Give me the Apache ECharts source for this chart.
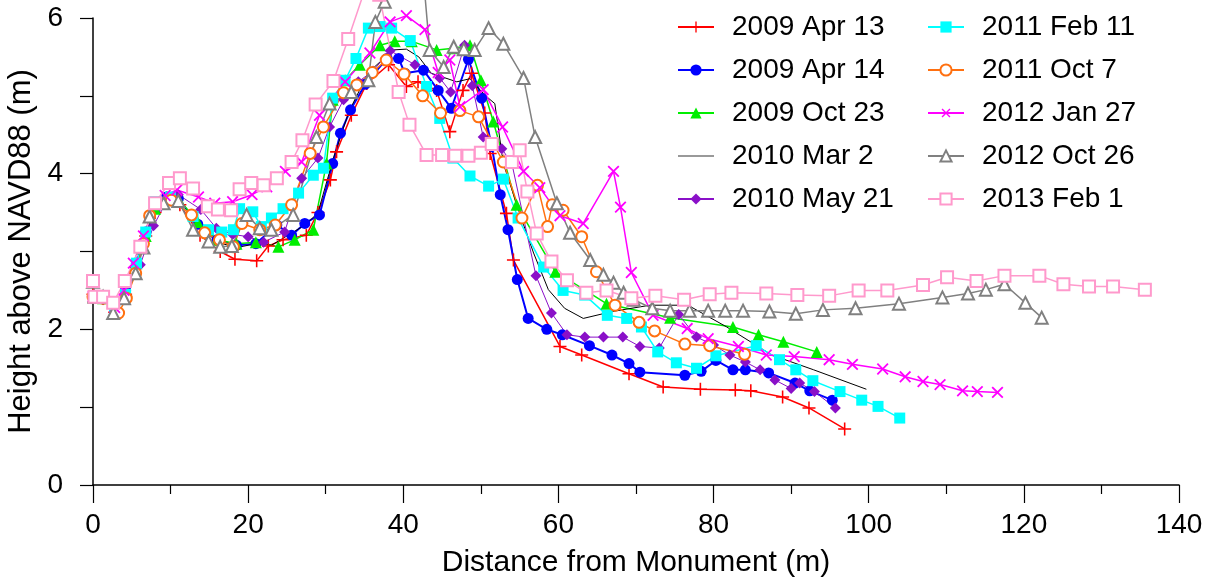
<!DOCTYPE html>
<html>
<head>
<meta charset="utf-8">
<script src="https://cdn.jsdelivr.net/npm/echarts@6/dist/echarts.min.js"></script>
<style>
  html, body { margin: 0; padding: 0; background: #fff; }
  #chart { width: 1210px; height: 583px; }
</style>
</head>
<body>
<div id="chart"></div>
<script>
// survey profiles, [distance (m), height (m)]
var seriesNames = ['2009 Apr 13', '2009 Apr 14', '2009 Oct 23', '2010 Mar 2', '2010 May 21',
                   '2011 Feb 11', '2011 Oct 7', '2012 Jan 27', '2012 Oct 26', '2013 Feb 1'];

var apr13_2009 = [[0,2.45],[1.3,2.4],[2.8,2.22],[4.2,2.45],[5.6,2.8],[6.8,3.2],[8,3.5],[9.5,3.65],[11.2,3.6],[13.8,3.21],[16.4,3.0],[18.3,2.9],[21.1,2.88],[22.6,3.07],[24.5,3.15],[27.5,3.21],[29,3.5],[30.6,3.92],[31.4,4.28],[33.3,4.75],[35.3,5.16],[38.1,5.4],[40.4,5.12],[41.9,5.18],[44.3,5.07],[46,4.54],[47.7,5.07],[48.8,5.29],[50.5,4.78],[51.2,4.26],[53.3,3.49],[54.2,2.89],[60.2,1.78],[63,1.67],[69.1,1.43],[73.5,1.26],[78.3,1.23],[82.8,1.22],[84.8,1.21],[88.9,1.13],[92.3,0.99],[96.9,0.72]];

var apr14_2009 = [[0,2.42],[1.3,2.4],[2.8,2.22],[4.2,2.5],[5.6,2.85],[6.8,3.25],[8,3.55],[9.5,3.7],[11,3.68],[13.5,3.35],[16,3.15],[18.5,3.08],[21,3.1],[23.7,3.34],[25.6,3.21],[27.3,3.36],[29.2,3.47],[30.9,4.13],[31.9,4.52],[33.2,4.82],[35.1,5.15],[37.9,5.48],[39.4,5.48],[40.2,5.29],[42.6,5.33],[44.5,5.07],[46.2,4.84],[48.4,5.47],[50.1,4.97],[51.4,4.35],[52.5,3.73],[53.5,3.28],[54.7,2.64],[56.1,2.14],[58.5,2.0],[60.5,1.93],[64,1.79],[66.9,1.67],[69.1,1.56],[70.5,1.45],[76.3,1.41],[78.4,1.46],[80.3,1.6],[82.5,1.48],[84.1,1.48],[87.1,1.44],[90.5,1.31],[92.4,1.21],[95.3,1.09]];

var oct23_2009 = [[0,2.42],[1.3,2.4],[2.8,2.22],[4.2,2.5],[5.6,2.85],[6.8,3.2],[8,3.55],[9.5,3.7],[11,3.68],[13.5,3.38],[16,3.15],[18.5,3.1],[21,3.12],[23.9,3.06],[26,3.15],[28.4,3.28],[30.1,4.13],[30.9,4.95],[32.5,5.2],[34.4,5.4],[37,5.65],[38.9,5.7],[41.1,5.7],[44.3,5.59],[46.5,5.61],[48.6,5.65],[50,5.2],[51.6,4.67],[54.6,3.6],[59.6,2.74],[66.2,2.33],[74.4,2.15],[82.5,2.03],[85.8,1.93],[89,1.84],[93.3,1.71]];

var mar2_2010 = [[0,2.42],[1.3,2.4],[2.8,2.22],[4.2,2.5],[5.6,2.85],[6.8,3.2],[8,3.55],[9.5,3.68],[11,3.66],[13.5,3.35],[16,3.12],[18.5,3.05],[21,3.1],[23,3.08],[25,3.2],[27.5,3.35],[29,3.5],[31,4.2],[33,4.8],[35.5,5.3],[38.7,5.59],[40.4,5.6],[42,5.5],[43.6,5.29],[46.9,5.18],[48.6,5.22],[50.5,5.01],[51.8,4.9],[52.9,4.13],[55.3,3.4],[56.8,2.98],[58.7,2.51],[60.8,2.27],[63.2,2.14],[67,2.23],[71.8,2.31],[76.7,2.31],[81.7,2.03],[87.5,1.67],[92.9,1.48],[99.7,1.23]];

var may21_2010 = [[0,2.42],[1.3,2.38],[2.8,2.22],[4.2,2.5],[6.1,2.83],[7.8,3.33],[9.5,3.65],[11,3.73],[13.9,3.54],[15.9,3.3],[18,3.22],[20,3.19],[22,3.12],[24.7,3.25],[26.9,3.94],[29,4.2],[30.5,4.6],[32.3,4.95],[34.2,5.18],[36.1,5.32],[38.3,5.58],[41.5,5.4],[44.7,5.23],[46.1,5.05],[47.9,5.65],[48.9,5.13],[50.3,4.47],[52.7,4.32],[54,4.13],[57.1,2.69],[59.1,2.21],[61.1,1.93],[63.4,1.9],[65.8,1.9],[68.3,1.9],[70.5,1.78],[73,1.76],[75.5,2.19],[77.8,1.9],[80,1.8],[82.1,1.67],[84.1,1.58],[86,1.48],[87.9,1.35],[90,1.24],[91.1,1.31],[93,1.2],[95.7,0.99]];

var feb11_2011 = [[0,2.62],[0.2,2.42],[1.3,2.42],[2.8,2.28],[4.2,2.45],[5.6,2.85],[6.8,3.25],[8,3.64],[10,3.7],[12.9,3.45],[14.9,3.28],[16.6,3.25],[18.1,3.28],[18.9,3.55],[20.6,3.51],[21.7,3.32],[23,3.43],[24.5,3.55],[26.5,3.75],[28.4,3.98],[29.7,4.07],[30.9,4.97],[32.5,5.2],[33.9,5.48],[35.5,5.87],[37,5.89],[38.5,5.87],[40.9,5.71],[43,5.12],[44.7,4.71],[46.4,4.2],[48.6,3.97],[51,3.84],[52.9,3.93],[54.8,3.43],[58.1,2.8],[60.6,2.5],[63.4,2.44],[66.3,2.18],[68.8,2.14],[70.7,2.03],[72.8,1.71],[75.2,1.57],[77.8,1.5],[80.3,1.66],[85.5,1.79],[88.5,1.61],[90.6,1.48],[92.8,1.34],[96.3,1.2],[99.1,1.09],[101.2,1.01],[104,0.86]];

var oct7_2011 = [[0,2.42],[1.3,2.4],[3.3,2.21],[4.3,2.4],[5.5,2.72],[6.5,3.1],[7.3,3.46],[8.5,3.62],[10.1,3.66],[12.7,3.47],[14.4,3.24],[16.3,3.15],[18.1,3.06],[19.2,3.36],[21.5,3.28],[23.5,3.34],[25.6,3.6],[28,4.26],[29.7,4.6],[32.3,5.04],[34,5.14],[36,5.3],[37.8,5.46],[40.1,5.28],[42.5,5.0],[44.8,4.78],[47.3,4.81],[49.7,4.73],[52.9,4.15],[55.3,3.43],[57.3,3.85],[58.6,3.32],[59.2,3.6],[60.6,3.53],[63,3.19],[64.9,2.74],[67.3,2.31],[70.4,2.09],[72.4,1.98],[76.3,1.81],[79.5,1.79],[84,1.68]];

var jan27_2012 = [[0,2.42],[1.3,2.42],[2.8,2.28],[4,2.5],[5.2,2.85],[6.5,3.2],[8,3.6],[9.3,3.72],[10.8,3.79],[13.6,3.7],[15.7,3.62],[18,3.64],[20.5,3.73],[22.4,3.83],[24.8,4.03],[26.9,4.15],[29.2,4.75],[32.5,5.18],[35.7,5.55],[38.3,5.95],[40.4,6.03],[42.8,5.85],[44.5,5.3],[46,5.46],[47.3,4.86],[50.3,5.08],[52.8,4.6],[55.5,4.03],[57.6,3.82],[60.2,3.46],[63.2,3.36],[67.1,4.03],[68,3.57],[69.4,2.73],[72.2,2.18],[76.6,2.01],[79.3,1.88],[83.2,1.78],[86.8,1.67],[90.4,1.65],[94.9,1.61],[97.9,1.55],[101.8,1.49],[104.7,1.39],[107,1.33],[109.2,1.29],[112.1,1.21],[114,1.2],[116.6,1.19]];

var oct26_2012 = [[0,2.61],[0.2,2.42],[1.3,2.42],[2.6,2.21],[4,2.4],[5.5,2.72],[6.5,3.05],[7.3,3.45],[9.1,3.62],[11,3.65],[12.9,3.28],[14.9,3.13],[16.4,3.06],[17.9,3.07],[19.8,3.47],[21.5,3.3],[23,3.28],[25.8,3.47],[28.8,4.47],[30.5,4.9],[33.3,5.05],[35.5,5.2],[36.4,5.95],[37.6,6.21],[39,7.0],[41.5,7.0],[42.7,6.4],[43.4,5.59],[45.2,5.37],[46.5,5.63],[47.8,5.6],[49.2,5.59],[51,5.87],[52.9,5.67],[55.5,5.23],[57,4.47],[59.8,3.62],[61.5,3.24],[64.1,2.89],[65.8,2.7],[67.1,2.6],[68.4,2.47],[69.7,2.38],[72.1,2.27],[74.4,2.24],[76.9,2.24],[79.3,2.24],[81.5,2.24],[83.8,2.24],[87.2,2.23],[90.6,2.2],[94.1,2.25],[98.3,2.27],[103.9,2.33],[109.5,2.41],[112.8,2.46],[115.1,2.51],[117.5,2.58],[120.2,2.34],[122.3,2.15]];

var feb1_2013 = [[0,2.62],[0.2,2.42],[1.3,2.42],[2.6,2.34],[4.1,2.62],[6.1,3.06],[8,3.62],[9.8,3.88],[11.2,3.94],[12.9,3.81],[14.8,3.58],[16.1,3.54],[17.8,3.53],[18.9,3.8],[20.4,3.88],[22,3.85],[23.7,3.94],[25.6,4.15],[27,4.43],[28.7,4.89],[31,5.19],[32.9,5.73],[35,6.35],[36.9,6.3],[39.4,5.05],[40.8,4.63],[43,4.24],[45,4.24],[46.7,4.23],[48.4,4.23],[50,4.27],[51.4,4.38],[54,4.15],[55,4.3],[56,3.77],[57.2,3.23],[59.1,2.87],[61.1,2.63],[63.6,2.47],[66.2,2.5],[69.4,2.4],[72.5,2.43],[76.2,2.38],[79.5,2.45],[82.3,2.47],[86.8,2.46],[90.8,2.44],[94.9,2.43],[98.7,2.5],[102.4,2.5],[107,2.57],[110.1,2.67],[113.9,2.62],[117.5,2.69],[122,2.69],[125.1,2.58],[128.4,2.55],[131.5,2.55],[135.6,2.51]];

var xTicks = [0, 20, 40, 60, 80, 100, 120, 140];
var yTicks = [0, 2, 4, 6];

var FONT = "'Liberation Sans', Arial, sans-serif";
var PLUS = 'path://M4.4,0H5.6V4.4H10V5.6H5.6V10H4.4V5.6H0V4.4H4.4Z';

// colour, symbol, size, line width, rotation for each survey
var looks = [
  ['#ff0000', PLUS, 13, 1.5, 0],
  ['#0000ff', 'circle', 11, 2, 0],
  ['#00ee00', 'triangle', 12, 1.5, 0],
  ['#000000', 'none', 0, 1, 0],
  ['#8a10c8', 'diamond', 11, 1, 0],
  ['#00ffff', 'rect', 11, 1.5, 0],
  ['#ff7010', 'emptyCircle', 11, 1.5, 0],
  ['#ff00ff', PLUS, 15, 1.5, 45],
  ['#808080', 'emptyTriangle', 12, 1.5, 0],
  ['#ff99cc', 'emptyRect', 12, 1.5, 0]
];
var allData = [apr13_2009, apr14_2009, oct23_2009, mar2_2010, may21_2010,
               feb11_2011, oct7_2011, jan27_2012, oct26_2012, feb1_2013];

var series = allData.map(function (d, i) {
  var lk = looks[i];
  return {
    name: seriesNames[i],
    type: 'line',
    data: d,
    clip: false,
    symbol: lk[1],
    symbolSize: lk[2],
    symbolRotate: lk[4],
    showSymbol: lk[1] !== 'none',
    lineStyle: { color: lk[0], width: lk[3] },
    itemStyle: { color: lk[0], borderColor: lk[0], borderWidth: lk[1].indexOf('empty') === 0 ? 1.5 : 0 },
    emphasis: { disabled: true }
  };
});

function legendCol(names, left) {
  return {
    data: names.map(function (n) {
      // the plain line has no marker
      if (n === '2010 Mar 2') {
        return { name: n, itemStyle: { color: 'rgba(0,0,0,0)', borderWidth: 0 }, lineStyle: { color: '#777', width: 1.5 } };
      }
      return { name: n };
    }),
    orient: 'vertical',
    left: left,
    top: 12,
    padding: 0,
    itemWidth: 36,
    itemHeight: 14,
    itemGap: 13,
    selectedMode: false,
    textStyle: { fontFamily: FONT, fontSize: 28, color: '#000', lineHeight: 30, padding: [0, 0, 0, 13] }
  };
}

var chart = echarts.init(document.getElementById('chart'), null, { renderer: 'canvas' });
chart.setOption({
  animation: false,
  backgroundColor: '#fff',
  grid: { left: 93, right: 31, top: 18, bottom: 98, containLabel: false, outerBoundsMode: 'none' },
  legend: [legendCol(seriesNames.slice(0, 5), 677), legendCol(seriesNames.slice(5), 927)],
  xAxis: {
    type: 'value',
    min: xTicks[0], max: xTicks[xTicks.length - 1], interval: 20,
    name: 'Distance from Monument (m)',
    nameLocation: 'middle', nameGap: 63,
    nameTextStyle: { fontFamily: FONT, fontSize: 30, color: '#000' },
    axisLine: { onZero: false, lineStyle: { color: '#000', width: 1.5 } },
    axisTick: { inside: false, length: 18, lineStyle: { color: '#000', width: 1.2 } },
    minorTick: { show: true, splitNumber: 2, length: 9, lineStyle: { color: '#000', width: 1.2 } },
    splitLine: { show: false },
    axisLabel: { margin: 26, fontFamily: FONT, fontSize: 28, color: '#000' }
  },
  yAxis: {
    type: 'value',
    min: yTicks[0], max: yTicks[yTicks.length - 1], interval: 2,
    name: 'Height above NAVD88 (m)',
    nameLocation: 'middle', nameGap: 49,
    nameTextStyle: { fontFamily: FONT, fontSize: 31, color: '#000' },
    axisLine: { onZero: false, lineStyle: { color: '#000', width: 1.5 } },
    axisTick: { inside: false, length: 13, lineStyle: { color: '#000', width: 1.2 } },
    minorTick: { show: true, splitNumber: 2, length: 13, lineStyle: { color: '#000', width: 1.2 } },
    splitLine: { show: false },
    axisLabel: { margin: 30, fontFamily: FONT, fontSize: 28, color: '#000' }
  },
  series: series
});
</script>
</body>
</html>
